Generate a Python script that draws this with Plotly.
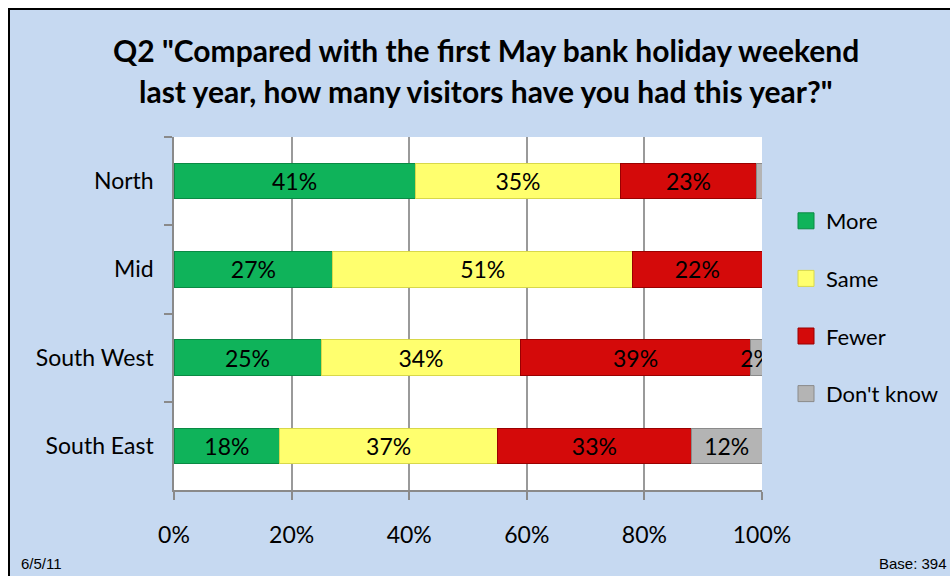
import plotly.graph_objects as go

# Survey responses by region (percent of respondents)
regions = ["North", "Mid", "South West", "South East"]
more = [41, 27, 25, 18]
same = [35, 51, 34, 37]
fewer = [23, 22, 39, 33]
dont_know = [1, 0, 2, 12]
dont_know_labels = ["", "", "2%", "12%"]
x_ticks = [0, 20, 40, 60, 80, 100]
x_tick_labels = ["0%", "20%", "40%", "60%", "80%", "100%"]

W, H = 950, 576
L, R, T, B = 174, 188, 137, 86
PW, PH = W - L - R, H - T - B


def px(xp):
    return (xp - L) / PW


def py(yp):
    return (H - B - yp) / PH


FONT = "Lato, 'Open Sans', sans-serif"
LABEL_SIZE = 23

series = [
    ("More", more, [f"{v}%" for v in more], "#0fb35a", "#0a8a44"),
    ("Same", same, [f"{v}%" for v in same], "#ffff6e", "#d8d84a"),
    ("Fewer", fewer, [f"{v}%" for v in fewer], "#d40a0a", "#9a0000"),
    ("Don't know", dont_know, dont_know_labels, "#b4b4b4", "#8a8a8a"),
]

fig = go.Figure()
for name, vals, labels, color, edge in series:
    fig.add_trace(go.Bar(
        y=regions, x=vals, orientation="h", name=name,
        marker=dict(color=color, line=dict(color=edge, width=1)),
        text=labels, textposition="inside", insidetextanchor="middle",
        textangle=0, constraintext="none",
        insidetextfont=dict(family=FONT, size=LABEL_SIZE, color="black"),
        showlegend=False, hoverinfo="skip",
    ))
    # legend entry with a larger square swatch
    fig.add_trace(go.Scatter(
        x=[None], y=[None], mode="markers", name=name, legendgroup=name,
        marker=dict(symbol="square", size=16, color=color,
                    line=dict(color=edge, width=1)),
    ))

# frame: white margin strip with a black rule on the top and left
shapes = [
    dict(type="rect", xref="paper", yref="paper", x0=px(0), x1=px(W),
         y0=py(0), y1=py(8), fillcolor="white", line_width=0, layer="below"),
    dict(type="rect", xref="paper", yref="paper", x0=px(0), x1=px(8),
         y0=py(0), y1=py(H), fillcolor="white", line_width=0, layer="below"),
    dict(type="line", xref="paper", yref="paper", x0=px(8), x1=px(W),
         y0=py(9), y1=py(9), line=dict(color="black", width=2)),
    dict(type="line", xref="paper", yref="paper", x0=px(9), x1=px(9),
         y0=py(8), y1=py(H), line=dict(color="black", width=2)),
]

TITLE_FONT = dict(family=FONT, size=30, color="black", weight="bold")
annotations = [
    dict(text='Q2 "Compared with the first May bank holiday weekend',
         x=px(486), y=py(50), xref="paper", yref="paper", showarrow=False,
         xanchor="center", yanchor="middle", font=TITLE_FONT),
    dict(text='last year, how many visitors have you had this year?"',
         x=px(486), y=py(91), xref="paper", yref="paper", showarrow=False,
         xanchor="center", yanchor="middle", font=TITLE_FONT),
    dict(text="6/5/11", x=px(19), y=py(563), xref="paper", yref="paper",
         showarrow=False, xanchor="left", yanchor="middle",
         font=dict(family="Liberation Sans, Arial", size=15, color="black")),
    dict(text="Base: 394", x=px(949), y=py(563), xref="paper", yref="paper",
         showarrow=False, xanchor="right", yanchor="middle",
         font=dict(family="Liberation Sans, Arial", size=15, color="black")),
]

fig.update_layout(
    width=W, height=H,
    margin=dict(l=L, r=R, t=T, b=B, pad=0, autoexpand=False),
    paper_bgcolor="#c6d9f1", plot_bgcolor="white",
    barmode="stack", bargap=0.6,
    font=dict(family=FONT, size=LABEL_SIZE, color="black"),
    shapes=shapes, annotations=annotations,
    legend=dict(x=px(786), y=py(200), xanchor="left", yanchor="top",
                traceorder="grouped", tracegroupgap=26,
                bgcolor="rgba(0,0,0,0)", itemwidth=30,
                font=dict(family=FONT, size=LABEL_SIZE - 1, color="black")),
    xaxis=dict(range=[0, 100], tickvals=x_ticks, ticktext=x_tick_labels,
               showgrid=True, gridcolor="#9a9a9a", gridwidth=1.5,
               showline=True, linecolor="#8a8a8a", linewidth=1.5,
               ticks="outside", ticklen=8, tickcolor="#8a8a8a", tickwidth=1.5,
               ticklabelstandoff=16, zeroline=False, fixedrange=True),
    yaxis=dict(autorange="reversed", showline=True, linecolor="#8a8a8a",
               linewidth=1.5, ticks="outside", ticklen=8, tickcolor="#8a8a8a",
               tickwidth=1.5, tickson="boundaries", ticklabelstandoff=14,
               showgrid=False, fixedrange=True),
)

fig.write_html("out.html")
